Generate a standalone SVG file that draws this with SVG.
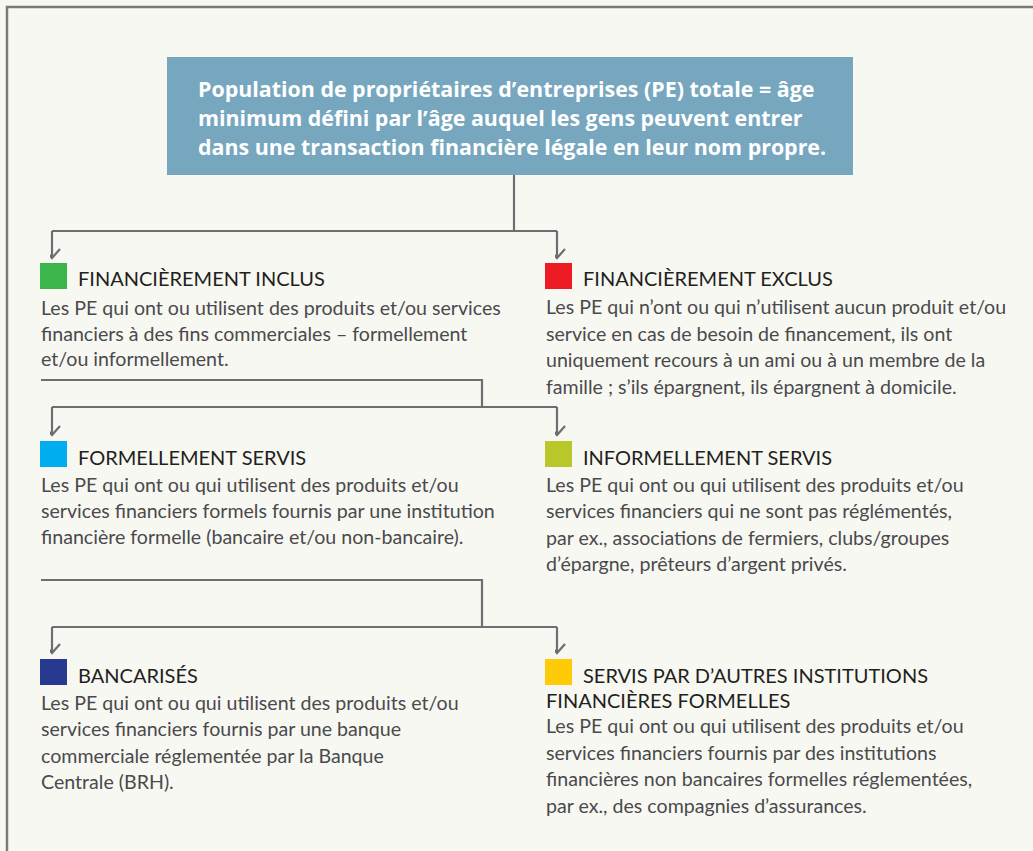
<svg xmlns="http://www.w3.org/2000/svg" width="1033" height="851" viewBox="0 0 1033 851">
<style>
.bg{fill:#f8f8f3}
.frame{fill:none;stroke:#7a7a7a;stroke-width:2.5}
.head{fill:#76a7bf}
.ht{font-family:"Open Sans",Lato,sans-serif;font-weight:bold;font-size:21.4px;fill:#ffffff}
.tt{font-family:Lato,"Open Sans",sans-serif;font-size:20px;fill:#231f20}
.bt{font-family:Lato,"Open Sans",sans-serif;font-size:19.6px;fill:#4a4a4c}
.ln{fill:none;stroke:#6d6e71;stroke-width:2.2}
</style>
<defs>
<marker id="arr" markerUnits="userSpaceOnUse" markerWidth="20" markerHeight="14" viewBox="-10 -12 20 14" refX="0" refY="0" orient="auto-start-reverse">
<path d="M-8,-9 L0,0 L8,-9" fill="none" stroke="#6d6e71" stroke-width="2.2" transform="rotate(-90)"/>
</marker>
</defs>
<rect class="bg" x="0" y="0" width="1033" height="851"/>
<path class="frame" d="M7,851 L7,7 L1033,7"/>

<g id="connectors">
<path class="ln" d="M514,175 L514,231"/>
<path class="ln" d="M52,231 L557,231"/>
<path class="ln" d="M52,231 L52,258" marker-end="url(#arr)"/>
<path class="ln" d="M557,231 L557,258" marker-end="url(#arr)"/>
<path class="ln" d="M41,380 L482,380 L482,407"/>
<path class="ln" d="M52,407 L557,407"/>
<path class="ln" d="M52,407 L52,435" marker-end="url(#arr)"/>
<path class="ln" d="M557,407 L557,435" marker-end="url(#arr)"/>
<path class="ln" d="M41,580 L482,580 L482,627"/>
<path class="ln" d="M52,627 L557,627"/>
<path class="ln" d="M52,627 L52,653" marker-end="url(#arr)"/>
<path class="ln" d="M557,627 L557,653" marker-end="url(#arr)"/>
</g>

<g id="root">
<rect class="head" x="167" y="57" width="686" height="118"/>
<text class="ht" x="198" y="97">Population de propriétaires d’entreprises (PE) totale = âge</text>
<text class="ht" x="198" y="126">minimum défini par l’âge auquel les gens peuvent entrer</text>
<text class="ht" x="198" y="155">dans une transaction financière légale en leur nom propre.</text>
</g>

<g id="inclus">
<rect x="40" y="263" width="27" height="26" fill="#3cb64b"/>
<text class="tt" x="78" y="286">FINANCIÈREMENT INCLUS</text>
<text class="bt" x="41" y="315">Les PE qui ont ou utilisent des produits et/ou services</text>
<text class="bt" x="41" y="341">financiers à des fins commerciales – formellement</text>
<text class="bt" x="41" y="366">et/ou informellement.</text>
</g>

<g id="exclus">
<rect x="545" y="263" width="27" height="26" fill="#ed1c24"/>
<text class="tt" x="583" y="286">FINANCIÈREMENT EXCLUS</text>
<text class="bt" x="546" y="314">Les PE qui n’ont ou qui n’utilisent aucun produit et/ou</text>
<text class="bt" x="546" y="340.5">service en cas de besoin de financement, ils ont</text>
<text class="bt" x="546" y="367">uniquement recours à un ami ou à un membre de la</text>
<text class="bt" x="546" y="393.5">famille ; s’ils épargnent, ils épargnent à domicile.</text>
</g>

<g id="formel">
<rect x="40" y="441" width="27" height="26" fill="#00aeef"/>
<text class="tt" x="78" y="465">FORMELLEMENT SERVIS</text>
<text class="bt" x="41" y="492">Les PE qui ont ou qui utilisent des produits et/ou</text>
<text class="bt" x="41" y="518">services financiers formels fournis par une institution</text>
<text class="bt" x="41" y="544">financière formelle (bancaire et/ou non-bancaire).</text>
</g>

<g id="informel">
<rect x="545" y="441" width="27" height="26" fill="#b9c72b"/>
<text class="tt" x="583" y="465">INFORMELLEMENT SERVIS</text>
<text class="bt" x="546" y="492">Les PE qui ont ou qui utilisent des produits et/ou</text>
<text class="bt" x="546" y="518">services financiers qui ne sont pas réglémentés,</text>
<text class="bt" x="546" y="545">par ex., associations de fermiers, clubs/groupes</text>
<text class="bt" x="546" y="571">d’épargne, prêteurs d’argent privés.</text>
</g>

<g id="bancarises">
<rect x="40" y="659" width="27" height="26" fill="#283a90"/>
<text class="tt" x="78" y="683">BANCARISÉS</text>
<text class="bt" x="41" y="710">Les PE qui ont ou qui utilisent des produits et/ou</text>
<text class="bt" x="41" y="736">services financiers fournis par une banque</text>
<text class="bt" x="41" y="763">commerciale réglementée par la Banque</text>
<text class="bt" x="41" y="789">Centrale (BRH).</text>
</g>

<g id="autres">
<rect x="545" y="659" width="27" height="26" fill="#ffca08"/>
<text class="tt" x="583" y="683">SERVIS PAR D’AUTRES INSTITUTIONS</text>
<text class="tt" x="546" y="708">FINANCIÈRES FORMELLES</text>
<text class="bt" x="546" y="733">Les PE qui ont ou qui utilisent des produits et/ou</text>
<text class="bt" x="546" y="760">services financiers fournis par des institutions</text>
<text class="bt" x="546" y="786">financières non bancaires formelles réglementées,</text>
<text class="bt" x="546" y="813">par ex., des compagnies d’assurances.</text>
</g>
</svg>
